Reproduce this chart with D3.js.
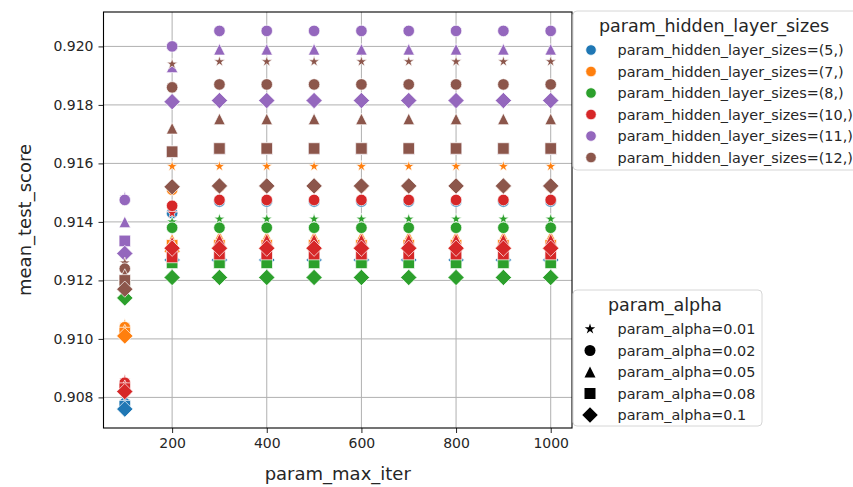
<!DOCTYPE html>
<html lang="en">
<head>
<meta charset="UTF-8">
<title>mean_test_score vs param_max_iter</title>
<script src="https://d3js.org/d3.v7.min.js"></script>
<style>
  body { margin: 0; background: #fff; font-family: 'DejaVu Sans', sans-serif; }
  svg text { font-family: 'DejaVu Sans', sans-serif; fill: #262626; }
</style>
</head>
<body>
<svg id="chart" width="853" height="487"></svg>
<script>
  // ---- data ----
  const maxIter = [100, 200, 300, 400, 500, 600, 700, 800, 900, 1000];
  const hiddenSizes = ["(5,)", "(7,)", "(8,)", "(10,)", "(11,)", "(12,)"];
  const alphas = ["0.01", "0.02", "0.05", "0.08", "0.1"];
  const hueColors = ["#1f77b4", "#ff7f0e", "#2ca02c", "#d62728", "#9467bd", "#8c564b"];
  const alphaMarkers = ["star", "circle", "triangle", "square", "diamond"];
  const yTicks = [0.908, 0.910, 0.912, 0.914, 0.916, 0.918, 0.920];
  const xTicks = [200, 400, 600, 800, 1000];

  // one row per alpha, one value per max_iter
  const scoresH5 = [
    [0.9078, 0.9143, 0.9147, 0.9147, 0.9147, 0.9147, 0.9147, 0.9147, 0.9147, 0.9147],
    [0.9078, 0.9143, 0.9147, 0.9147, 0.9147, 0.9147, 0.9147, 0.9147, 0.9147, 0.9147],
    [0.9078, 0.9127, 0.9127, 0.9127, 0.9127, 0.9127, 0.9127, 0.9127, 0.9127, 0.9127],
    [0.9077, 0.9127, 0.9127, 0.9127, 0.9127, 0.9127, 0.9127, 0.9127, 0.9127, 0.9127],
    [0.9076, 0.9127, 0.9127, 0.9127, 0.9127, 0.9127, 0.9127, 0.9127, 0.9127, 0.9127]
  ];
  const scoresH7 = [
    [0.9105, 0.9159, 0.9159, 0.9159, 0.9159, 0.9159, 0.9159, 0.9159, 0.9159, 0.9159],
    [0.9104, 0.9151, 0.9152, 0.9152, 0.9152, 0.9152, 0.9152, 0.9152, 0.9152, 0.9152],
    [0.9103, 0.9134, 0.9135, 0.9135, 0.9135, 0.9135, 0.9135, 0.9135, 0.9135, 0.9135],
    [0.9102, 0.9132, 0.9132, 0.9132, 0.9132, 0.9132, 0.9132, 0.9132, 0.9132, 0.9132],
    [0.9101, 0.9130, 0.9131, 0.9131, 0.9131, 0.9131, 0.9131, 0.9131, 0.9131, 0.9131]
  ];
  const scoresH8 = [
    [0.9121, 0.9140, 0.9141, 0.9141, 0.9141, 0.9141, 0.9141, 0.9141, 0.9141, 0.9141],
    [0.9120, 0.9138, 0.9138, 0.9138, 0.9138, 0.9138, 0.9138, 0.9138, 0.9138, 0.9138],
    [0.9119, 0.9130, 0.9130, 0.9130, 0.9130, 0.9130, 0.9130, 0.9130, 0.9130, 0.9130],
    [0.9118, 0.9126, 0.9126, 0.9126, 0.9126, 0.9126, 0.9126, 0.9126, 0.9126, 0.9126],
    [0.9114, 0.9121, 0.9121, 0.9121, 0.9121, 0.9121, 0.9121, 0.9121, 0.9121, 0.9121]
  ];
  const scoresH10 = [
    [0.9086, 0.9143, 0.9148, 0.9148, 0.9148, 0.9148, 0.9148, 0.9148, 0.9148, 0.9148],
    [0.9085, 0.91455, 0.91475, 0.91475, 0.91475, 0.91475, 0.91475, 0.91475, 0.91475, 0.91475],
    [0.9084, 0.9133, 0.9134, 0.9134, 0.9134, 0.9134, 0.9134, 0.9134, 0.9134, 0.9134],
    [0.9083, 0.9128, 0.9129, 0.9129, 0.9129, 0.9129, 0.9129, 0.9129, 0.9129, 0.9129],
    [0.9082, 0.9131, 0.9131, 0.9131, 0.9131, 0.9131, 0.9131, 0.9131, 0.9131, 0.9131]
  ];
  const scoresH11 = [
    [0.91485, 0.9186, 0.9187, 0.9187, 0.9187, 0.9187, 0.9187, 0.9187, 0.9187, 0.9187],
    [0.91475, 0.9200, 0.92053, 0.92053, 0.92053, 0.92053, 0.92053, 0.92053, 0.92053, 0.92053],
    [0.9140, 0.9193, 0.9199, 0.9199, 0.9199, 0.9199, 0.9199, 0.9199, 0.9199, 0.9199],
    [0.91335, 0.9164, 0.9165, 0.9165, 0.9165, 0.9165, 0.9165, 0.9165, 0.9165, 0.9165],
    [0.91292, 0.91811, 0.91815, 0.91815, 0.91815, 0.91815, 0.91815, 0.91815, 0.91815, 0.91815]
  ];
  const scoresH12 = [
    [0.9126, 0.9194, 0.91948, 0.91948, 0.91948, 0.91948, 0.91948, 0.91948, 0.91948, 0.91948],
    [0.9124, 0.9186, 0.9187, 0.9187, 0.9187, 0.9187, 0.9187, 0.9187, 0.9187, 0.9187],
    [0.9122, 0.9172, 0.91752, 0.91752, 0.91752, 0.91752, 0.91752, 0.91752, 0.91752, 0.91752],
    [0.9120, 0.9164, 0.91651, 0.91651, 0.91651, 0.91651, 0.91651, 0.91651, 0.91651, 0.91651],
    [0.9117, 0.9152, 0.91523, 0.91523, 0.91523, 0.91523, 0.91523, 0.91523, 0.91523, 0.91523]
  ];
  const scoresByHidden = [scoresH5, scoresH7, scoresH8, scoresH10, scoresH11, scoresH12];

  // drawing order: hidden size, then alpha, then max_iter (later hues sit on top)
  const rows = [];
  hiddenSizes.forEach((h, hi) => {
    alphas.forEach((a, ai) => {
      maxIter.forEach((it, ii) => {
        rows.push({ alpha: ai, hidden: hi, iter: it, score: scoresByHidden[hi][ai][ii] });
      });
    });
  });

  // matplotlib-like marker shapes, s = marker width in px
  function markerPath(kind, s) {
    const r = s / 2;
    if (kind === "circle") return d3.symbol(d3.symbolCircle, Math.PI * r * r)();
    if (kind === "square") return `M${-r},${-r}h${s}v${s}h${-s}Z`;
    if (kind === "triangle") return `M0,${-r}L${r},${r}L${-r},${r}Z`;
    if (kind === "diamond") {
      const d = r * Math.SQRT2;
      return `M0,${-d}L${d},0L0,${d}L${-d},0Z`;
    }
    // star
    const inner = r * 0.381966;
    const pts = [];
    for (let i = 0; i < 10; i++) {
      const rad = i % 2 === 0 ? r : inner;
      const ang = -Math.PI / 2 + i * Math.PI / 5;
      pts.push([rad * Math.cos(ang), rad * Math.sin(ang)]);
    }
    return "M" + pts.map(p => p.join(",")).join("L") + "Z";
  }

  // ---- layout ----
  const svg = d3.select("#chart");
  const plot = { left: 103.5, right: 572, top: 12, bottom: 428 };

  const xExt = d3.extent(maxIter);
  const xPad = (xExt[1] - xExt[0]) * 0.05;
  const x = d3.scaleLinear().domain([xExt[0] - xPad, xExt[1] + xPad]).range([plot.left, plot.right]);

  const yExt = d3.extent(rows, d => d.score);
  const yPad = (yExt[1] - yExt[0]) * 0.05;
  const y = d3.scaleLinear().domain([yExt[0] - yPad, yExt[1] + yPad]).range([plot.bottom, plot.top]);

  // grid
  const grid = svg.append("g").attr("stroke", "#b0b0b0").attr("stroke-width", 1);
  grid.selectAll("line.gx").data(xTicks).join("line")
    .attr("x1", d => x(d)).attr("x2", d => x(d))
    .attr("y1", plot.top).attr("y2", plot.bottom);
  grid.selectAll("line.gy").data(yTicks).join("line")
    .attr("x1", plot.left).attr("x2", plot.right)
    .attr("y1", d => y(d)).attr("y2", d => y(d));

  // axes
  const xAxis = svg.append("g")
    .attr("transform", `translate(0,${plot.bottom})`)
    .call(d3.axisBottom(x).tickValues(xTicks).tickSize(5).tickPadding(5).tickFormat(d3.format("d")));
  const yAxis = svg.append("g")
    .attr("transform", `translate(${plot.left},0)`)
    .call(d3.axisLeft(y).tickValues(yTicks).tickSize(5).tickPadding(5).tickFormat(d3.format(".3f")));
  [xAxis, yAxis].forEach(a => {
    a.select(".domain").remove();
    a.selectAll("text").style("font-size", "14px").attr("fill", "#262626");
    a.selectAll("line").attr("stroke", "#262626");
  });

  // points
  svg.append("g")
    .selectAll("path")
    .data(rows)
    .join("path")
    .attr("d", d => markerPath(alphaMarkers[d.alpha], 11.5))
    .attr("transform", d => `translate(${x(d.iter)},${y(d.score)})`)
    .attr("fill", d => hueColors[d.hidden])
    .attr("stroke", "#fff")
    .attr("stroke-width", 0.7);

  // frame
  svg.append("rect")
    .attr("x", plot.left).attr("y", plot.top)
    .attr("width", plot.right - plot.left).attr("height", plot.bottom - plot.top)
    .attr("fill", "none").attr("stroke", "#000").attr("stroke-width", 1.1);

  // axis labels
  svg.append("text")
    .attr("x", (plot.left + plot.right) / 2).attr("y", 480)
    .attr("text-anchor", "middle").style("font-size", "18px")
    .text("param_max_iter");
  svg.append("text")
    .attr("transform", `translate(31,${(plot.top + plot.bottom) / 2}) rotate(-90)`)
    .attr("text-anchor", "middle").style("font-size", "18px")
    .text("mean_test_score");

  // ---- legends ----
  function legend(top, height, width, title, titleX, labels, drawMarker) {
    const g = svg.append("g");
    g.append("rect")
      .attr("x", 573).attr("y", top).attr("width", width).attr("height", height)
      .attr("rx", 4).attr("fill", "#fff").attr("fill-opacity", 0.85)
      .attr("stroke", "#d6d6d6").attr("stroke-width", 1);
    g.append("text")
      .attr("x", titleX).attr("y", top + 21)
      .attr("text-anchor", "middle").style("font-size", "17.5px")
      .text(title);
    const rowG = g.selectAll("g.item").data(labels).join("g")
      .attr("transform", (d, i) => `translate(0,${top + 39 + i * 21.5})`);
    drawMarker(rowG);
    rowG.append("text")
      .attr("x", 617.5).attr("y", 5)
      .style("font-size", "14.4px")
      .text(d => d);
  }

  legend(11, 159, 300, "param_hidden_layer_sizes", 714,
    hiddenSizes.map(h => `param_hidden_layer_sizes=${h}`),
    sel => sel.append("path")
      .attr("d", markerPath("circle", 10.5))
      .attr("transform", "translate(591,0)")
      .attr("fill", (d, i) => hueColors[i])
      .attr("stroke", "#fff").attr("stroke-width", 0.7));

  legend(290, 136, 189, "param_alpha", 665,
    alphas.map(a => `param_alpha=${a}`),
    sel => sel.append("path")
      .attr("d", (d, i) => markerPath(alphaMarkers[i], 11))
      .attr("transform", "translate(590,0)")
      .attr("fill", "#000"));
</script>
</body>
</html>
